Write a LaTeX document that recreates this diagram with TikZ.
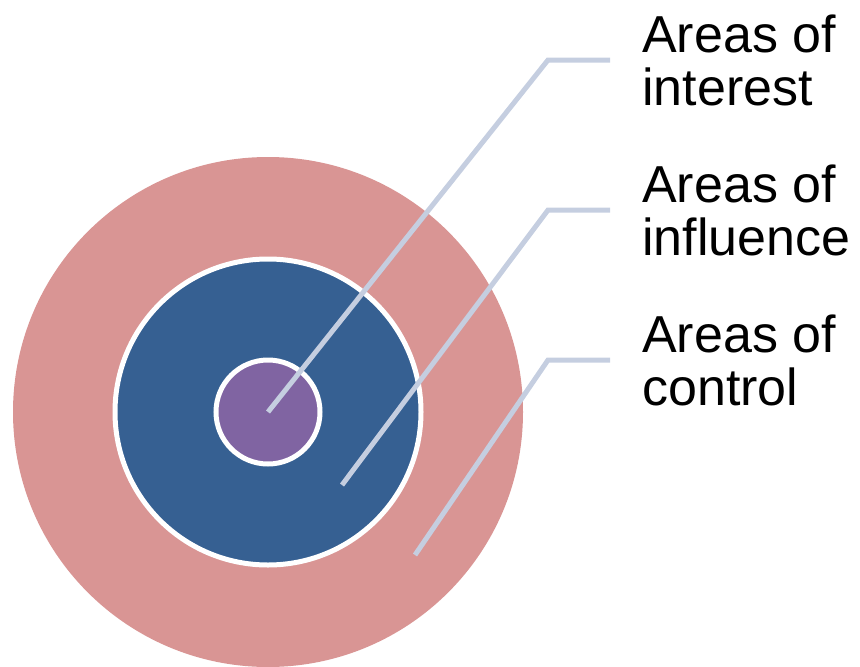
\documentclass[tikz,border=0pt]{standalone}
\usepackage{fontspec}
\setmainfont{Liberation Sans}
\usetikzlibrary{positioning}

\definecolor{controlpink}{HTML}{D99594}
\definecolor{influenceblue}{HTML}{366092}
\definecolor{interestpurple}{HTML}{8064A2}
\definecolor{leadergray}{HTML}{C5CEE0}

\begin{document}
\begin{tikzpicture}[x=1pt,y=-1pt,
	ring/.style={circle, draw=white, line width=5pt, inner sep=0pt},
	leader/.style={draw=leadergray, line width=5pt},
	area/.style={anchor=west, align=left, inner sep=0pt,
		font=\fontsize{52}{53}\selectfont}
]
	\useasboundingbox (0,0) rectangle (860,667);

	% the three rings, biggest first
	\node[ring, fill=controlpink, draw=none, minimum size=510pt] (control) at (268,412) {};
	\node[ring, fill=influenceblue, minimum size=306pt] (influence) at (268,412) {};
	\node[ring, fill=interestpurple, minimum size=104pt] (interest) at (268,412) {};

	% labels on the right
	\node[area] (lbl-interest) at (642,60) {Areas of\\interest};
	\node[area] (lbl-influence) at (642,210) {Areas of\\influence};
	\node[area] (lbl-control) at (642,360) {Areas of\\control};

	% leader lines
	\coordinate (p-interest) at (268,412);
	\coordinate (p-influence) at (342,485);
	\coordinate (p-control) at (415,555);
	\coordinate (k-interest) at (548,60);
	\coordinate (k-influence) at (548,210);
	\coordinate (k-control) at (548,360);

	\draw[leader, shorten >=32pt] (p-interest) -- (k-interest) -- (lbl-interest.west);
	\draw[leader, shorten >=32pt] (p-influence) -- (k-influence) -- (lbl-influence.west);
	\draw[leader, shorten >=32pt] (p-control) -- (k-control) -- (lbl-control.west);
\end{tikzpicture}
\end{document}
